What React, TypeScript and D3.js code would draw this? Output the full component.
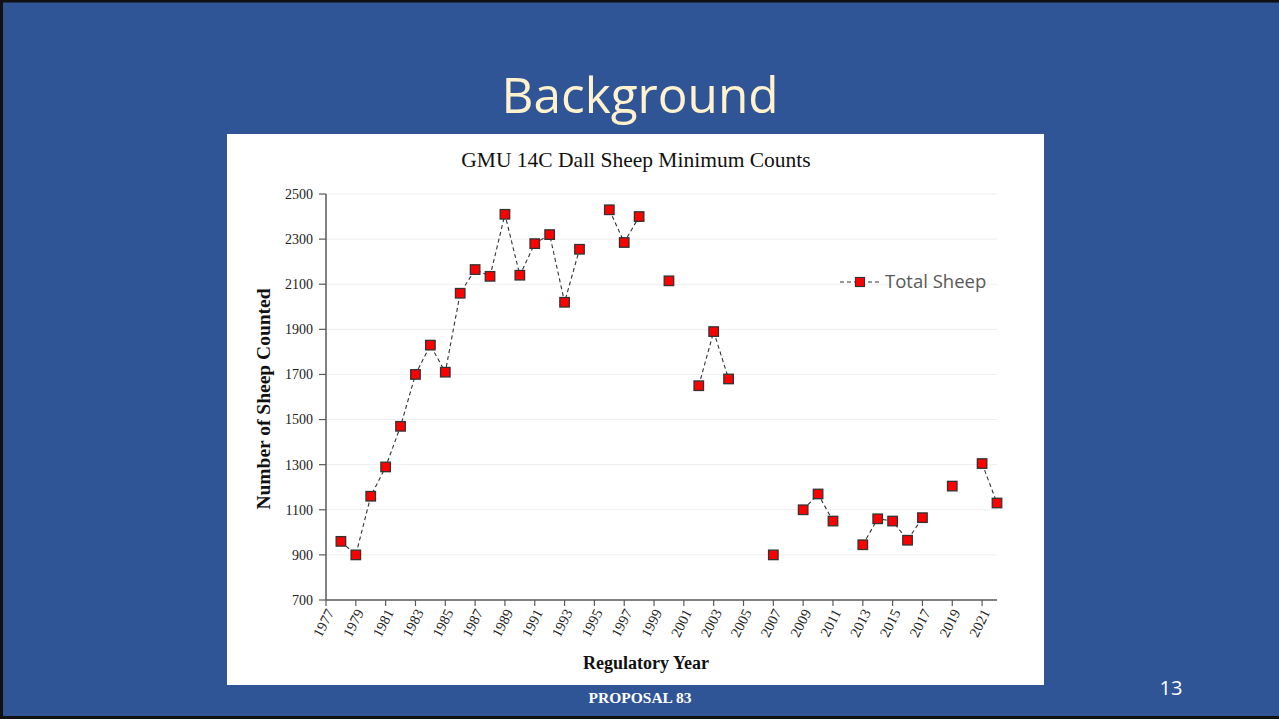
import React from "react";
import * as d3 from "d3";

const years: number[] = [
  1978, 1979, 1980, 1981, 1982, 1983, 1984, 1985, 1986, 1987, 1988, 1989, 1990,
  1991, 1992, 1993, 1994, 1995, 1996, 1997, 1998, 1999, 2000, 2001, 2002, 2003,
  2004, 2005, 2006, 2007, 2008, 2009, 2010, 2011, 2012, 2013, 2014, 2015, 2016,
  2017, 2018, 2019, 2020, 2021, 2022,
];
const totalSheep: (number | null)[] = [
  960, 900, 1160, 1290, 1470, 1700, 1830, 1710, 2060, 2165, 2135, 2410, 2140,
  2280, 2320, 2020, 2255, null, 2430, 2285, 2400, null, 2115, null, 1650, 1890,
  1680, null, null, 900, null, 1100, 1170, 1050, null, 945, 1060, 1050, 965,
  1065, null, 1205, null, 1305, 1130,
];
const yTicks: number[] = [700, 900, 1100, 1300, 1500, 1700, 1900, 2100, 2300, 2500];
const xTicks: number[] = d3.range(1977, 2022, 2);

const slideTitle = "Background";
const chartTitle = "GMU 14C Dall Sheep Minimum Counts";
const yLabel = "Number of Sheep Counted";
const xLabel = "Regulatory Year";
const legendLabel = "Total Sheep";
const footer = "PROPOSAL 83";
const pageNum = "13";

export default function App() {
  const W = 1279;
  const H = 719;
  const left = 326;
  const right = 997;
  const top = 194;
  const bottom = 600;
  const x = d3.scaleLinear().domain([1977, 2022]).range([left, right]);
  const y = d3.scaleLinear().domain([700, 2500]).range([bottom, top]);
  const pts = years.map((yr, i) => ({ yr, v: totalSheep[i] }));
  const line = d3
    .line<{ yr: number; v: number | null }>()
    .defined((d) => d.v !== null)
    .x((d) => x(d.yr))
    .y((d) => y(d.v as number));
  const serif = "'Liberation Serif', 'Times New Roman', serif";
  const sans = "'Open Sans', 'Noto Sans', sans-serif";
  const ms = 9.5;
  const axisColor = "#595959";

  return (
    <div style={{ position: "fixed", left: 0, top: 0 }}>
      <svg width={W} height={H} style={{ display: "block" }}>
        <rect x={0} y={0} width={W} height={H} fill="#2f5597" />
        <path d={`M${W},1 H1.5 V${H - 1.5} H${W}`} fill="none" stroke="#111" strokeWidth={3} />
        <text x={640} y={113} textAnchor="middle" fill="#fff2cc" fontFamily={sans} fontSize={49.5}>
          {slideTitle}
        </text>
        <rect x={227} y={134} width={817} height={551} fill="#ffffff" />
        <text x={636} y={167} textAnchor="middle" fontFamily={serif} fontSize={21.5} fill="#111">
          {chartTitle}
        </text>
        {yTicks.slice(1).map((t) => (
          <line key={"g" + t} x1={left} x2={right} y1={y(t)} y2={y(t)} stroke="#eeeeee" strokeWidth={1} />
        ))}
        <line x1={left} x2={left} y1={top} y2={bottom} stroke={axisColor} strokeWidth={1.5} />
        {yTicks.map((t) => (
          <g key={"y" + t}>
            <line x1={left - 7} x2={left} y1={y(t)} y2={y(t)} stroke={axisColor} strokeWidth={1.2} />
            <text x={313} y={y(t)} dy="0.35em" textAnchor="end" fontFamily={serif} fontSize={14} fill="#222">
              {t}
            </text>
          </g>
        ))}
        <line x1={left} x2={right} y1={bottom} y2={bottom} stroke={axisColor} strokeWidth={1.5} />
        {xTicks.map((t) => (
          <g key={"x" + t}>
            <line x1={x(t)} x2={x(t)} y1={bottom} y2={bottom + 6} stroke={axisColor} strokeWidth={1.2} />
            <text
              transform={`translate(${x(t) + 4},${bottom + 10}) rotate(-63)`}
              dy="0.35em"
              textAnchor="end"
              fontFamily={serif}
              fontSize={14.5}
              fill="#222"
            >
              {t}
            </text>
          </g>
        ))}
        <path d={line(pts) || ""} fill="none" stroke="#333" strokeWidth={1.1} strokeDasharray="4,3" />
        {pts
          .filter((d) => d.v !== null)
          .map((d) => (
            <rect
              key={"m" + d.yr}
              x={x(d.yr) - ms / 2}
              y={y(d.v as number) - ms / 2}
              width={ms}
              height={ms}
              fill="#ff0000"
              stroke="#333"
              strokeWidth={1.3}
            />
          ))}
        <text
          transform={`translate(270,399) rotate(-90)`}
          textAnchor="middle"
          fontFamily={serif}
          fontWeight="bold"
          fontSize={19.5}
          fill="#111"
        >
          {yLabel}
        </text>
        <text x={646} y={669} textAnchor="middle" fontFamily={serif} fontWeight="bold" fontSize={18} fill="#111">
          {xLabel}
        </text>
        <line x1={840} x2={880} y1={282} y2={282} stroke="#333" strokeWidth={1.1} strokeDasharray="4,3" />
        <rect x={860 - 4.5} y={282 - 4.5} width={9} height={9} fill="#ff0000" stroke="#333" strokeWidth={1.2} />
        <text x={885} y={288} fontFamily={sans} fontSize={18.5} fill="#595959">
          {legendLabel}
        </text>
        <text x={640} y={703} textAnchor="middle" fontFamily={serif} fontWeight="bold" fontSize={15.5} fill="#ffffff">
          {footer}
        </text>
        <text x={1171} y={695} textAnchor="middle" fontFamily={sans} fontSize={20} fill="#ffffff">
          {pageNum}
        </text>
      </svg>
    </div>
  );
}
